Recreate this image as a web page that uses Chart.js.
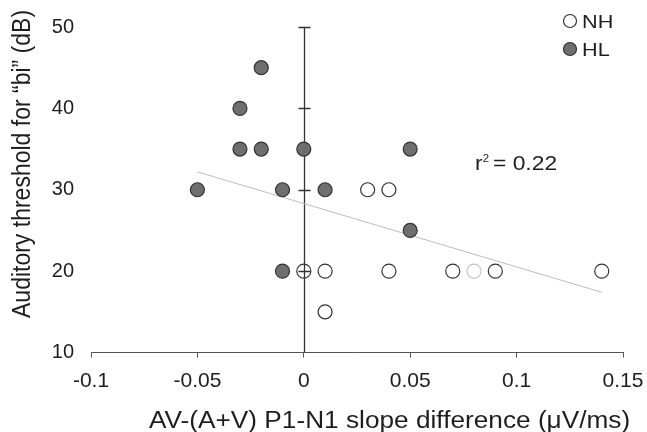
<!DOCTYPE html>
<html>
<head>
<meta charset="utf-8">
<script src="https://cdn.jsdelivr.net/npm/chart.js@4"></script>
<style>
  body { margin: 0; background: #fff; }
  #wrap { width: 647px; height: 432px; }
</style>
</head>
<body>
<div id="wrap"><canvas id="myChart" width="647" height="432"></canvas></div>
<script>
// normal hearing group (open circles)
var nhX = [0, 0.01, 0.04, 0.07, 0.08, 0.09, 0.14, 0.01, 0.03, 0.04];
var nhY = [20, 20, 20, 20, 20, 20, 20, 15, 30, 30];
var nhFaint = 4; // the pale circle at 0.08

// hearing loss group (filled circles)
var hlX = [-0.02, -0.03, -0.03, -0.02, 0, 0.05, -0.05, -0.01, 0.01, 0.05, -0.01];
var hlY = [45, 40, 35, 35, 35, 35, 30, 30, 30, 25, 20];

// regression line end points
var fitX = [-0.05, 0.14];
var fitY = [32.2, 17.4];

var xTickLabels = ["-0.1", "-0.05", "0", "0.05", "0.1", "0.15"];
var yTickLabels = ["10", "20", "30", "40", "50"];
var seriesNames = ["NH", "HL"];
var rSquared = "0.22";

var xTitle = "AV-(A+V) P1-N1 slope difference (\u03bcV/ms)";
var yTitle = "Auditory threshold for \u201cbi\u201d (dB)";

function pts(xs, ys) {
  return xs.map(function (x, i) { return { x: x, y: ys[i] }; });
}

var textColor = "#1e1e1e";
var font = "'Liberation Sans', Arial, sans-serif";
var stretch = 1.14; // the original lettering is a bit wide

// draws text widened horizontally, x is the left edge
function wideText(c, str, x, y, size) {
  c.save();
  c.font = size + "px " + font;
  c.translate(x, y);
  c.scale(stretch, 1);
  c.fillText(str, 0, 0);
  var w = c.measureText(str).width * stretch;
  c.restore();
  return w;
}

var extras = {
  id: 'extras',
  beforeDatasetsDraw: function (chart) {
    var c = chart.ctx, xs = chart.scales.x, ys = chart.scales.y;
    var x0 = Math.round(xs.getPixelForValue(0)) + 0.5;
    c.save();
    c.strokeStyle = "#333";
    c.lineWidth = 1.3;
    c.beginPath();
    c.moveTo(x0, ys.getPixelForValue(10));
    c.lineTo(x0, ys.getPixelForValue(50));
    [20, 30, 40, 50].forEach(function (v) {
      var y = Math.round(ys.getPixelForValue(v)) + 0.5;
      c.moveTo(x0 - 6, y);
      c.lineTo(x0 + 6, y);
    });
    c.stroke();
    c.restore();
  },
  afterDraw: function (chart) {
    var c = chart.ctx, a = chart.chartArea, xs = chart.scales.x, ys = chart.scales.y;
    c.save();
    c.fillStyle = textColor;
    c.textAlign = "left";
    c.textBaseline = "alphabetic";

    // axis titles
    wideText(c, xTitle, a.left + 58, 428, 23);
    c.save();
    c.font = "23px " + font;
    c.translate(30, a.top + 291);
    c.rotate(-Math.PI / 2);
    c.scale(1, stretch);
    c.fillText(yTitle, 0, 0);
    c.restore();

    // r squared annotation
    var rx = xs.getPixelForValue(0.0805), ry = ys.getPixelForValue(32.45);
    var w = wideText(c, "r", rx, ry, 20);
    wideText(c, "2", rx + w, ry - 8, 10);
    wideText(c, " = " + rSquared, rx + w + 4, ry, 20);

    // legend
    var lx = a.right - 53;
    chart.data.datasets.slice(0, 2).forEach(function (ds, i) {
      var ly = a.top - 6 + i * 28;
      c.beginPath();
      c.arc(lx, ly, 6.5, 0, Math.PI * 2);
      c.fillStyle = ds.backgroundColor;
      c.fill();
      c.lineWidth = 1.2;
      c.strokeStyle = "#333";
      c.stroke();
      c.fillStyle = textColor;
      wideText(c, ds.label, lx + 12, ly + 7, 19);
    });
    c.restore();
  }
};

var ctx = document.getElementById("myChart").getContext('2d');
var myChart = new Chart(ctx, {
  type: 'scatter',
  plugins: [extras],
  data: {
    datasets: [{
      label: seriesNames[0],
      data: pts(nhX, nhY),
      backgroundColor: "rgba(255,255,255,0)",
      pointBorderColor: function (c) { return c.dataIndex === nhFaint ? "#c4c4c4" : "#333"; },
      pointBorderWidth: 1.2,
      pointRadius: 7,
      order: 1
    }, {
      label: seriesNames[1],
      data: pts(hlX, hlY),
      backgroundColor: "#6e6e6e",
      borderColor: "#333",
      pointBorderWidth: 1.2,
      pointRadius: 7,
      order: 2
    }, {
      label: "fit",
      data: pts(fitX, fitY),
      showLine: true,
      borderColor: "#bdbdbd",
      borderWidth: 1,
      pointRadius: 0,
      order: 3
    }]
  },
  options: {
    responsive: false,
    animation: false,
    layout: { padding: { left: 0, right: 24, top: 27, bottom: 0 } },
    plugins: {
      legend: { display: false },
      tooltip: { enabled: false }
    },
    scales: {
      x: {
        min: -0.1, max: 0.15,
        afterFit: function (s) { s.height = 79.5; s.paddingLeft = 0; s.paddingRight = 0; },
        border: { display: true, color: "#555", width: 1 },
        grid: { display: true, drawOnChartArea: false, drawTicks: true, tickLength: 5, color: "#555" },
        ticks: {
          stepSize: 0.05,
          padding: 11,
          maxRotation: 0,
          color: textColor,
          font: { family: font, size: 21 },
          callback: function (v, i) { return xTickLabels[i]; }
        }
      },
      y: {
        min: 10, max: 50,
        afterFit: function (s) { s.width = 91; s.paddingTop = 0; s.paddingBottom = 0; },
        border: { display: false },
        grid: { display: false, drawTicks: false },
        ticks: {
          stepSize: 10,
          padding: 17,
          color: textColor,
          font: { family: font, size: 20 },
          callback: function (v, i) { return yTickLabels[i]; }
        }
      }
    }
  }
});
</script>
</body>
</html>
